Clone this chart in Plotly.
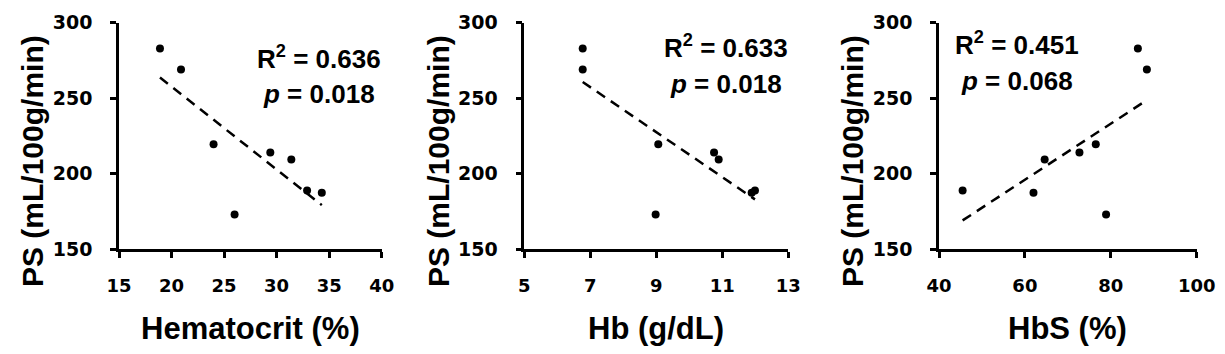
import numpy as np
import plotly.graph_objects as go

W, H = 1225, 354

# ---- data ----
ps = [283, 269, 219.5, 173, 214, 209.5, 189, 187.5]
hematocrit = [18.9, 20.9, 24.0, 26.0, 29.4, 31.4, 32.9, 34.3]
ps_hb = [283, 269, 219.5, 173, 214, 209.5, 187.5, 189]
hb = [6.77, 6.77, 9.06, 8.98, 10.75, 10.89, 11.89, 11.99]
ps_hbs = [189, 187.5, 209.5, 214, 219.5, 173, 283, 269]
hbs = [45.5, 62.0, 64.6, 72.7, 76.5, 78.9, 86.3, 88.4]

x_titles = ["Hematocrit (%)", "Hb (g/dL)", "HbS (%)"]
y_title = "PS (mL/100g/min)"
r2_labels = ["0.636", "0.633", "0.451"]
p_labels = ["0.018", "0.018", "0.068"]
x_ranges = [[15, 40], [5, 13], [40, 100]]
x_dticks = [5, 2, 20]
y_range = [150, 300]

# ---- layout geometry (pixels) ----
plot_left = [119, 524.3, 939]
plot_right = [381.7, 788.3, 1196.7]
plot_top, plot_bottom = 22.7, 249.3
ytitle_x = [32, 438, 852]
ann_center_x = [318.5, 726, 1016.5]
ann_r2_y = [57, 47, 44]
ann_p_y = [94, 84, 81]

FONT = "Liberation Sans, Arial, sans-serif"
TICKFONT = "DejaVu Sans, sans-serif"

def px(x):
    return x / W

def py(y):
    return 1 - y / H

fig = go.Figure()
datasets = [(hematocrit, ps), (hb, ps_hb), (hbs, ps_hbs)]
for i, (xs, ys) in enumerate(datasets):
    xa = "x" if i == 0 else f"x{i+1}"
    ya = "y" if i == 0 else f"y{i+1}"
    fig.add_trace(go.Scatter(x=xs, y=ys, mode="markers", xaxis=xa, yaxis=ya,
                             marker=dict(color="black", size=8), showlegend=False))
    slope, icpt = np.polyfit(xs, ys, 1)
    lx = np.array([min(xs), max(xs)])
    fig.add_trace(go.Scatter(x=lx, y=slope * lx + icpt, mode="lines", xaxis=xa, yaxis=ya,
                             line=dict(color="black", width=2.5, dash="10px,7px"),
                             showlegend=False))
    axis_common = dict(showline=True, linecolor="black", linewidth=2.5, ticks="outside",
                       ticklen=6, tickwidth=2.5, tickcolor="black", showgrid=False,
                       zeroline=False, automargin=False)
    sfx = "" if i == 0 else str(i + 1)
    fig.layout["xaxis" + sfx] = dict(domain=[px(plot_left[i]), px(plot_right[i])],
                                     range=x_ranges[i], dtick=x_dticks[i], tick0=x_ranges[i][0],
                                     anchor=ya, ticklabelstandoff=12,
                                     tickfont=dict(family=TICKFONT, size=18, color="black",
                                                   weight="bold"),
                                     **axis_common)
    fig.layout["yaxis" + sfx] = dict(domain=[py(plot_bottom), py(plot_top)], range=y_range,
                                     dtick=50, anchor=xa, ticklabelstandoff=14,
                                     tickfont=dict(family=TICKFONT, size=19, color="black",
                                                   weight="bold"),
                                     **axis_common)
    # axis titles
    fig.add_annotation(x=px((plot_left[i] + plot_right[i]) / 2), y=py(328), xref="paper",
                       yref="paper", text=f"<b>{x_titles[i]}</b>", showarrow=False,
                       xanchor="center", yanchor="middle",
                       font=dict(family=FONT, size=31, color="black"))
    fig.add_annotation(x=px(ytitle_x[i]), y=py(161), xref="paper", yref="paper",
                       text=f"<b>{y_title}</b>", showarrow=False, textangle=-90,
                       xanchor="center", yanchor="middle",
                       font=dict(family=FONT, size=30, color="black"))
    # stats
    fig.add_annotation(x=px(ann_center_x[i]), y=py(ann_r2_y[i]), xref="paper", yref="paper",
                       text=f"<b>R<sup>2</sup> = {r2_labels[i]}</b>", showarrow=False,
                       xanchor="center", yanchor="middle",
                       font=dict(family=FONT, size=26, color="black"))
    fig.add_annotation(x=px(ann_center_x[i]), y=py(ann_p_y[i]), xref="paper", yref="paper",
                       text=f"<b><i>p</i> = {p_labels[i]}</b>", showarrow=False,
                       xanchor="center", yanchor="middle",
                       font=dict(family=FONT, size=26, color="black"))

fig.update_layout(width=W, height=H, margin=dict(l=0, r=0, t=0, b=0),
                  plot_bgcolor="white", paper_bgcolor="white", showlegend=False)
fig.write_html("out.html", config={"displayModeBar": False},
               post_script="document.body.style.margin='0';document.body.style.overflow='hidden';")
